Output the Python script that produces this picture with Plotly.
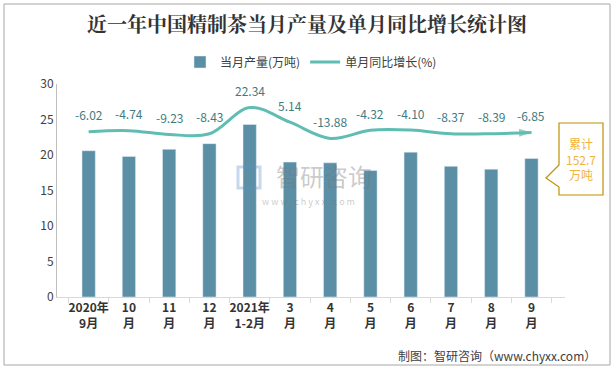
import plotly.graph_objects as go

categories = ["2020年<br>9月", "10<br>月", "11<br>月", "12<br>月", "2021年<br>1-2月", "3<br>月",
              "4<br>月", "5<br>月", "6<br>月", "7<br>月", "8<br>月", "9<br>月"]
production = [20.6, 19.8, 20.8, 21.6, 24.3, 19.0, 18.9, 17.8, 20.4, 18.4, 18.0, 19.5]
growth = [-6.02, -4.74, -9.23, -8.43, 22.34, 5.14, -13.88, -4.32, -4.10, -8.37, -8.39, -6.85]
cumulative_total = 152.7

W, H = 614, 369
ML, MR, MT, MB = 57, 49, 84, 72
PW, PH = W - ML - MR, H - MT - MB


def px(x):
    return (x - ML) / PW


def py(y):
    return (H - MB - y) / PH


BAR = "#5B8FA6"
LINE = "#5FBDB3"
FONT = "Noto Sans CJK SC"

fig = go.Figure()
fig.add_trace(go.Bar(x=categories, y=production, name="当月产量(万吨)",
                     marker_color=BAR, width=0.33))

n = len(growth)
symbols = ["circle"] + ["circle"] * (n - 2) + ["arrow"]
sizes = [10] + [0] * (n - 2) + [13]
mcolors = ["#F5B324"] + [LINE] * (n - 1)
fig.add_trace(go.Scatter(x=categories, y=growth, yaxis="y2", mode="lines+markers",
                         line=dict(color=LINE, width=3, shape="spline", smoothing=1.0),
                         marker=dict(symbol=symbols, size=sizes, color=mcolors,
                                     angleref="previous", line=dict(width=0)),
                         showlegend=False, hoverinfo="skip"))
fig.add_trace(go.Scatter(x=[None], y=[None], yaxis="y2", mode="lines",
                         name="单月同比增长(%)", line=dict(color=LINE, width=3)))

annotations = []
for c, g in zip(categories, growth):
    annotations.append(dict(x=c, y=g, xref="x", yref="y2", text=f"{g:.2f}",
                            showarrow=False, yshift=17, xanchor="center",
                            font=dict(size=12, color="#3E7C82", family=FONT)))

# callout
annotations.append(dict(x=px(581), y=py(159), xref="paper", yref="paper", xanchor="center",
                        yanchor="middle",
                        text=f"累计<br>{cumulative_total}<br>万吨", showarrow=False,
                        font=dict(size=12, color="#F0B43C", family=FONT)))
# watermark
annotations.append(dict(x=px(324), y=py(175), xref="paper", yref="paper", text="智研咨询",
                        xanchor="center", yanchor="middle",
                        showarrow=False, font=dict(size=24, color="rgba(120,120,120,0.40)", family=FONT)))
annotations.append(dict(x=px(308), y=py(201), xref="paper", yref="paper", xanchor="center",
                        yanchor="middle",
                        text="w w w . c h y x x . c o m", showarrow=False,
                        font=dict(size=9, color="rgba(120,120,120,0.40)", family=FONT)))
# footer
annotations.append(dict(x=px(598), y=py(355), xref="paper", yref="paper", xanchor="right",
                        yanchor="middle",
                        text="制图：智研咨询（www.chyxx.com）", showarrow=False,
                        font=dict(size=12, color="#404040", family=FONT)))

shapes = [
    dict(type="rect", xref="paper", yref="paper", x0=px(4), x1=px(610), y0=py(365), y1=py(4),
         line=dict(color="#A6A6A6", width=1), layer="below"),
    dict(type="path", xref="paper", yref="paper",
         path=(f"M {px(559)},{py(123)} L {px(603)},{py(123)} L {px(603)},{py(195)} "
               f"L {px(559)},{py(195)} L {px(559)},{py(187)} L {px(546)},{py(178)} "
               f"L {px(559)},{py(165)} Z"),
         line=dict(color="#BF9000", width=1.2), fillcolor="white", layer="above"),
    dict(type="rect", xref="paper", yref="paper", x0=px(238), x1=px(260), y0=py(188), y1=py(167),
         line=dict(color="rgba(91,143,200,0.35)", width=3), fillcolor="rgba(0,0,0,0)"),
]

fig.update_layout(
    width=W, height=H,
    margin=dict(l=ML, r=MR, t=MT, b=MB),
    paper_bgcolor="white", plot_bgcolor="white",
    font=dict(family=FONT, color="#404040"),
    title=dict(text="<b>近一年中国精制茶当月产量及单月同比增长统计图</b>", x=0.5, xanchor="center",
               y=1 - 25 / H, yanchor="middle",
               font=dict(size=20, color="#333333", family="Noto Serif CJK SC, " + FONT)),
    legend=dict(orientation="h", x=0.5, xanchor="center", y=py(62), yanchor="middle",
                font=dict(size=12, color="#404040"), itemwidth=30, bgcolor="rgba(0,0,0,0)"),
    bargap=0.6,
    xaxis=dict(type="category", showline=True, linecolor="#D9D9D9", linewidth=1,
               ticks="outside", tickson="boundaries", ticklen=5, tickcolor="#D9D9D9",
               tickangle=0, automargin=False,
               tickfont=dict(size=12, color="#333333", family=FONT),
               showgrid=False, zeroline=False),
    yaxis=dict(range=[0, 30], dtick=5, showline=True, linecolor="#BFBFBF", linewidth=1,
               automargin=False,
               showgrid=False, zeroline=False, ticks="", tickfont=dict(size=12, color="#404040")),
    yaxis2=dict(range=[-200, 50], overlaying="y", side="right", visible=False),
    annotations=annotations,
    shapes=shapes,
)
fig.update_xaxes(tickprefix="<b>", ticksuffix="</b>")

fig.write_html("out.html", config={"displayModeBar": False},
               post_script="document.body.style.margin='0';document.body.style.overflow='hidden';")
